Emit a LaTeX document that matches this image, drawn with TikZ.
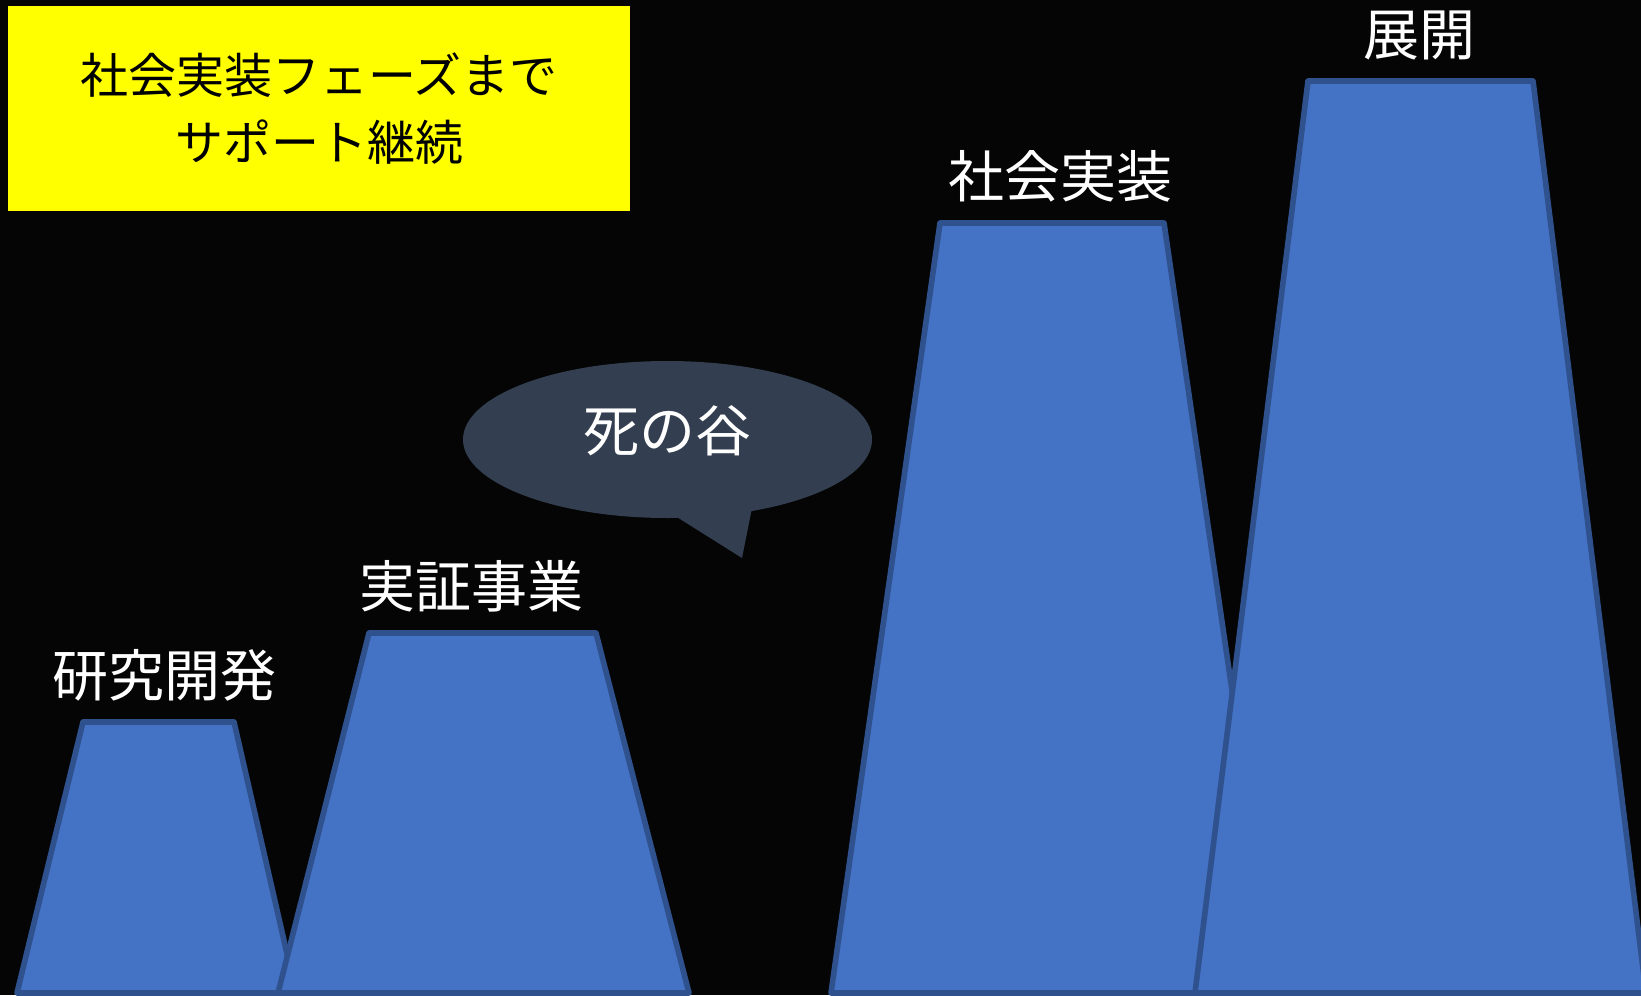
\documentclass[tikz,border=0pt]{standalone}
\usepackage{fontspec}
\setmainfont{Noto Sans CJK JP}
\definecolor{bgc}{RGB}{5,5,5}
\definecolor{mfill}{RGB}{68,114,196}
\definecolor{mline}{RGB}{47,82,143}
\definecolor{callc}{RGB}{51,63,80}
\definecolor{yelc}{RGB}{255,255,0}
\begin{document}
\begin{tikzpicture}[x=0.5pt,y=-0.5pt,
  mount/.style={fill=mfill, draw=mline, line width=2.8pt, line join=round},
  lbl/.style={text=white, font=\fontsize{28}{34}\selectfont, inner sep=0pt, anchor=center},
  goaltext/.style={text=black, font=\fontsize{24}{33.5}\selectfont, inner sep=0pt, align=center, anchor=center}]
\useasboundingbox (0,0) rectangle (1641,995);
\fill[bgc] (0,0) rectangle (1641,995);
% yellow box
\fill[yelc] (8,6) rectangle (630,211);
\node[goaltext] (goal) at (319,109) {社会実装フェーズまで\\サポート継続};
% mountains
\draw[mount] (83,722) -- (234,722) -- (296,993) -- (17,993) -- cycle;
\draw[mount] (369,633) -- (596,633) -- (689,993) -- (278,993) -- cycle;
\draw[mount] (940,223) -- (1164,223) -- (1276,993) -- (831,993) -- cycle;
\draw[mount] (1308,81) -- (1533,81) -- (1646,993) -- (1195,993) -- cycle;
% labels
\node[lbl] (rd) at (164,675) {研究開発};
\node[lbl] (poc) at (471,586) {実証事業};
\node[lbl] (impl) at (1060,176) {社会実装};
\node[lbl] (dev) at (1419,35) {展開};
% callout
\fill[callc] (667.5,439.5) ellipse [x radius=102.25pt, y radius=39.25pt];
\fill[callc] (672,514) -- (742,558) -- (752,508) -- cycle;
\node[lbl] (valley) at (667,431) {死の谷};
\end{tikzpicture}
\end{document}
